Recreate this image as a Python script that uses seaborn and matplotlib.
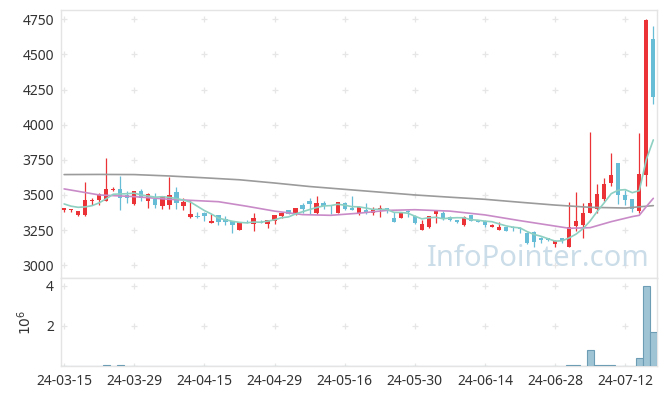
import numpy as np
import pandas as pd
import seaborn as sns
import matplotlib.pyplot as plt

# daily candles, one per trading day from 24-03-15 to 24-07-18
opens = [3395, 3390, 3355, 3355, 3455, 3465, 3460, 3535, 3540, 3500,
         3435, 3530, 3455, 3474, 3422, 3425, 3520, 3418, 3340, 3352,
         3375, 3300, 3355, 3332, 3313, 3252, 3310, 3295, 3310, 3295,
         3318, 3350, 3393, 3370, 3430, 3457, 3368, 3441, 3430, 3375,
         3440, 3407, 3368, 3393, 3375, 3393, 3405, 3335, 3335, 3388,
         3350, 3252, 3270, 3365, 3374, 3346, 3322, 3283, 3358, 3322,
         3317, 3275, 3252, 3270, 3274, 3265, 3232, 3239, 3196, 3191,
         3152, 3191, 3132, 3280, 3286, 3374, 3403, 3474, 3588, 3726,
         3498, 3469, 3384, 3645, 4608]
highs = [3405, 3402, 3386, 3590, 3480, 3515, 3760, 3560, 3635, 3525,
         3530, 3540, 3512, 3515, 3495, 3630, 3555, 3476, 3465, 3380,
         3378, 3363, 3358, 3350, 3315, 3310, 3320, 3374, 3320, 3325,
         3360, 3381, 3395, 3410, 3445, 3476, 3495, 3460, 3432, 3452,
         3450, 3495, 3420, 3440, 3415, 3430, 3410, 3381, 3372, 3393,
         3355, 3322, 3352, 3388, 3388, 3348, 3325, 3348, 3360, 3325,
         3320, 3290, 3310, 3272, 3276, 3274, 3235, 3242, 3200, 3196,
         3180, 3196, 3452, 3518, 3441, 3946, 3578, 3619, 3797, 3730,
         3536, 3469, 3939, 4750, 4703]
lows = [3378, 3378, 3353, 3353, 3430, 3430, 3455, 3525, 3395, 3445,
        3430, 3455, 3405, 3405, 3398, 3400, 3400, 3395, 3338, 3338,
        3313, 3298, 3286, 3285, 3228, 3250, 3297, 3246, 3298, 3263,
        3295, 3335, 3362, 3358, 3370, 3365, 3365, 3398, 3363, 3372,
        3395, 3390, 3358, 3365, 3358, 3346, 3375, 3305, 3333, 3341,
        3296, 3250, 3268, 3303, 3320, 3312, 3300, 3280, 3315, 3305,
        3272, 3272, 3250, 3244, 3244, 3232, 3150, 3132, 3160, 3170,
        3132, 3160, 3130, 3240, 3191, 3370, 3370, 3459, 3564, 3436,
        3427, 3381, 3374, 3564, 4148]
closes = [3405, 3400, 3385, 3465, 3465, 3505, 3545, 3545, 3475, 3475,
          3525, 3478, 3510, 3432, 3493, 3500, 3440, 3452, 3365, 3340,
          3347, 3317, 3308, 3304, 3287, 3308, 3300, 3336, 3300, 3322,
          3358, 3374, 3365, 3407, 3400, 3436, 3445, 3422, 3418, 3448,
          3403, 3393, 3415, 3377, 3400, 3405, 3390, 3310, 3370, 3377,
          3298, 3294, 3350, 3386, 3327, 3322, 3306, 3346, 3318, 3310,
          3287, 3287, 3270, 3246, 3263, 3260, 3158, 3168, 3180, 3176,
          3175, 3170, 3270, 3317, 3374, 3445, 3507, 3578, 3642, 3498,
          3465, 3398, 3650, 4746, 4200]
# volume in millions
volume = [0.01, 0.01, 0.01, 0.01, 0.01, 0.01, 0.05, 0.01, 0.05, 0.01,
          0.01, 0.01, 0.01, 0.01, 0.01, 0.01, 0.01, 0.01, 0.01, 0.01,
          0.01, 0.01, 0.01, 0.01, 0.01, 0.01, 0.01, 0.01, 0.01, 0.01,
          0.01, 0.01, 0.01, 0.01, 0.01, 0.01, 0.01, 0.01, 0.01, 0.01,
          0.01, 0.01, 0.01, 0.01, 0.01, 0.01, 0.01, 0.01, 0.01, 0.01,
          0.01, 0.01, 0.01, 0.01, 0.01, 0.01, 0.01, 0.01, 0.01, 0.01,
          0.01, 0.01, 0.01, 0.01, 0.01, 0.01, 0.01, 0.01, 0.01, 0.01,
          0.01, 0.01, 0.04, 0.04, 0.02, 0.78, 0.04, 0.04, 0.04, 0.02,
          0.005, 0.005, 0.38, 4.0, 1.7]

tick_labels = ["24-03-15", "24-03-29", "24-04-15", "24-04-29", "24-05-16",
               "24-05-30", "24-06-14", "24-06-28", "24-07-12"]

# moving averages
ma5_head = [3436, 3420, 3412, 3415]
ma20_day = [0, 5, 10, 15, 22, 26, 30, 34, 38, 42, 46, 50, 55, 60, 65, 72, 75, 78, 81, 82, 83, 84]
ma20_val = [3543, 3500, 3488, 3469, 3452, 3420, 3385, 3360, 3355, 3370, 3390, 3395, 3385,
            3358, 3317, 3263, 3267, 3310, 3346, 3355, 3417, 3476]
ma60_day = [0, 5, 10, 15, 20, 25, 30, 35, 40, 45, 50, 55, 60, 65, 70, 75, 80, 84]
ma60_val = [3645, 3646, 3645, 3635, 3622, 3608, 3585, 3560, 3540, 3520, 3500, 3484,
            3469, 3448, 3428, 3412, 3407, 3424]

RED = "#eb3237"
BLUE = "#68bdd6"

df = pd.DataFrame({"open": opens, "high": highs, "low": lows, "close": closes, "vol": volume})
df["day"] = np.arange(len(df))
ma5 = df["close"].rolling(5).mean()
ma5.iloc[:4] = ma5_head

sns.set_theme(style="white")
plt.rcParams["font.family"] = ["Noto Sans", "DejaVu Sans"]

fig = plt.figure(figsize=(6.65, 3.96), dpi=100)
ax = fig.add_axes([0.0917, 0.298, 0.896, 0.677])
axv = fig.add_axes([0.0917, 0.0758, 0.896, 0.222], sharex=ax)

# candles
up = df["close"] >= df["open"]
cols = np.where(up, RED, BLUE)
ax.vlines(df["day"], df["low"], df["high"], colors=cols, linewidth=0.9, zorder=3)
body = (df["close"] - df["open"]).abs().clip(lower=4)
ax.bar(df["day"], body, bottom=np.minimum(df["open"], df["close"]), width=0.62,
       color=cols, linewidth=0, zorder=4)

# moving averages
sns.lineplot(x=ma60_day, y=ma60_val, ax=ax, color="#9b9b9b", linewidth=1.2, zorder=5)
sns.lineplot(x=ma20_day, y=ma20_val, ax=ax, color="#c98bc8", linewidth=1.2, zorder=5)
sns.lineplot(x=df["day"], y=ma5, ax=ax, color="#8ed0c1", linewidth=1.2, zorder=5)

ax.text(0.988, 0.02, "InfoPointer.com", transform=ax.transAxes, ha="right", va="bottom",
        fontsize=21, color="#cbdde8", zorder=1)

# volume
axv.bar(df["day"], df["vol"], width=1.0, color="#9fc5d5", edgecolor="#6c9db5",
        linewidth=0.8, zorder=3)

tick_pos = np.arange(0, len(tick_labels) * 10, 10)
price_ticks = np.arange(3000, 4751, 250)
vol_ticks = [2, 4]

ax.set_xlim(-0.45, 84.5)
ax.set_ylim(2909, 4817)
axv.set_ylim(0, 4.39)

ax.set_yticks(price_ticks)
axv.set_yticks(vol_ticks)
axv.set_xticks(tick_pos)
axv.set_xticklabels(tick_labels)
ax.tick_params(axis="x", labelbottom=False)

# grid crosses at tick intersections
gx, gy = np.meshgrid(tick_pos, price_ticks)
ax.scatter(gx.ravel(), gy.ravel(), marker="+", s=20, color="#e6e6e6", linewidths=0.9, zorder=0)
gx, gy = np.meshgrid(tick_pos, [0] + vol_ticks)
axv.scatter(gx.ravel(), gy.ravel(), marker="+", s=20, color="#e6e6e6", linewidths=0.9, zorder=0)

for a in (ax, axv):
    a.tick_params(length=0, labelsize=10, colors="#333333", pad=5)
    a.set_xlabel("")
    a.set_ylabel("")
    for s in a.spines.values():
        s.set_color("#e4e4e4")
        s.set_linewidth(1)
    a.grid(False)

axv.set_ylabel("$10^6$", fontsize=10, color="#333333", labelpad=8)
axv.tick_params(axis="x", pad=6)

fig.savefig("out.png", dpi=100)
